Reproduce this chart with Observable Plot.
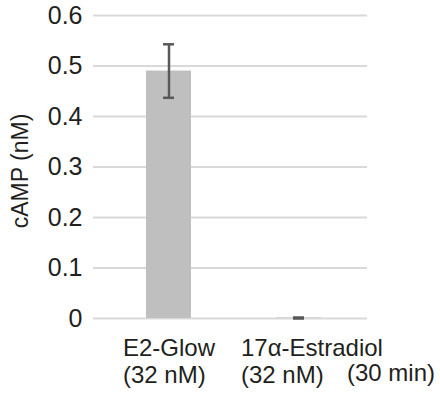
<!DOCTYPE html>
<html>
<head>
<meta charset="utf-8">
<script src="https://cdn.jsdelivr.net/npm/d3@7"></script>
<script src="https://cdn.jsdelivr.net/npm/@observablehq/plot@0.6"></script>
<style>
  html, body { margin: 0; padding: 0; background: #fff; }
  #chart svg { display: block; }
</style>
</head>
<body>
<div id="chart"></div>
<script>
// Treatments, mean cAMP (nM) and error (± nM)
const treatments = ["E2-Glow", "17α-Estradiol"];
const treatmentLabels = ["E2-Glow\n(32 nM)", "17α-Estradiol\n(32 nM)"];
const camp = [0.49, 0.001];
const campErr = [0.053, 0.001];
const yTicks = [0, 0.1, 0.2, 0.3, 0.4, 0.5, 0.6];
const yTickLabels = ["0", "0.1", "0.2", "0.3", "0.4", "0.5", "0.6"];
const timeNote = "(30 min)";
const yTitle = "cAMP (nM)";

const rows = treatments.map((t, i) => ({
  treatment: t,
  label: treatmentLabels[i],
  value: camp[i],
  lo: camp[i] - campErr[i],
  hi: camp[i] + campErr[i]
}));

const ink = "#231f20";
const font = "'Liberation Sans', Arial, Helvetica, sans-serif";

const chart = Plot.plot({
  width: 440,
  height: 394,
  marginTop: 15,
  marginBottom: 76,
  marginLeft: 93,
  marginRight: 73,
  style: { fontFamily: font, fontSize: "24px", color: ink, background: "#fff" },
  x: { domain: treatments, range: [145.5, 320.5], paddingInner: 0.654, paddingOuter: 0, axis: null },
  y: { domain: [0, 0.6], axis: null },
  marks: [
    Plot.gridY(yTicks, { stroke: "#d9d9d9", strokeOpacity: 1, strokeWidth: 2 }),
    Plot.axisY(yTicks, {
      tickSize: 0,
      tickPadding: 11,
      fontSize: 25,
      fill: ink,
      tickFormat: (d) => yTickLabels[yTicks.indexOf(d)],
      label: null
    }),
    Plot.barY(rows, { x: "treatment", y: "value", fill: "#bfbfbf" }),
    // error bars: stem plus caps
    Plot.ruleX(rows, { x: "treatment", y1: "lo", y2: "hi", stroke: "#595959", strokeWidth: 2.5 }),
    Plot.tickY(rows, { x: "treatment", y: "lo", stroke: "#595959", strokeWidth: 2.5, insetLeft: 17, insetRight: 17 }),
    Plot.tickY(rows, { x: "treatment", y: "hi", stroke: "#595959", strokeWidth: 2.5, insetLeft: 17, insetRight: 17 }),
    // category labels, left-aligned blocks under each bar
    Plot.text(rows.slice(0, 1), {
      x: "treatment", y: () => 0, text: "label",
      textAnchor: "start", lineAnchor: "top", lineHeight: 1.13,
      dx: -46, dy: 18, fontSize: 24, fill: ink
    }),
    Plot.text(rows.slice(1, 2), {
      x: "treatment", y: () => 0, text: "label",
      textAnchor: "start", lineAnchor: "top", lineHeight: 1.13,
      dx: -58, dy: 18, fontSize: 24, fill: ink
    }),
    Plot.text([timeNote], {
      x: () => treatments[1], y: () => 0, text: (d) => d,
      textAnchor: "start", lineAnchor: "top",
      dx: 48, dy: 45, fontSize: 24, fill: ink
    }),
    // y axis title
    Plot.text([yTitle], {
      frameAnchor: "left", text: (d) => d, rotate: -90,
      textAnchor: "middle", lineAnchor: "bottom",
      dx: -66, dy: 4, fontSize: 23, fill: ink
    })
  ]
});

document.getElementById("chart").appendChild(chart);
</script>
</body>
</html>
